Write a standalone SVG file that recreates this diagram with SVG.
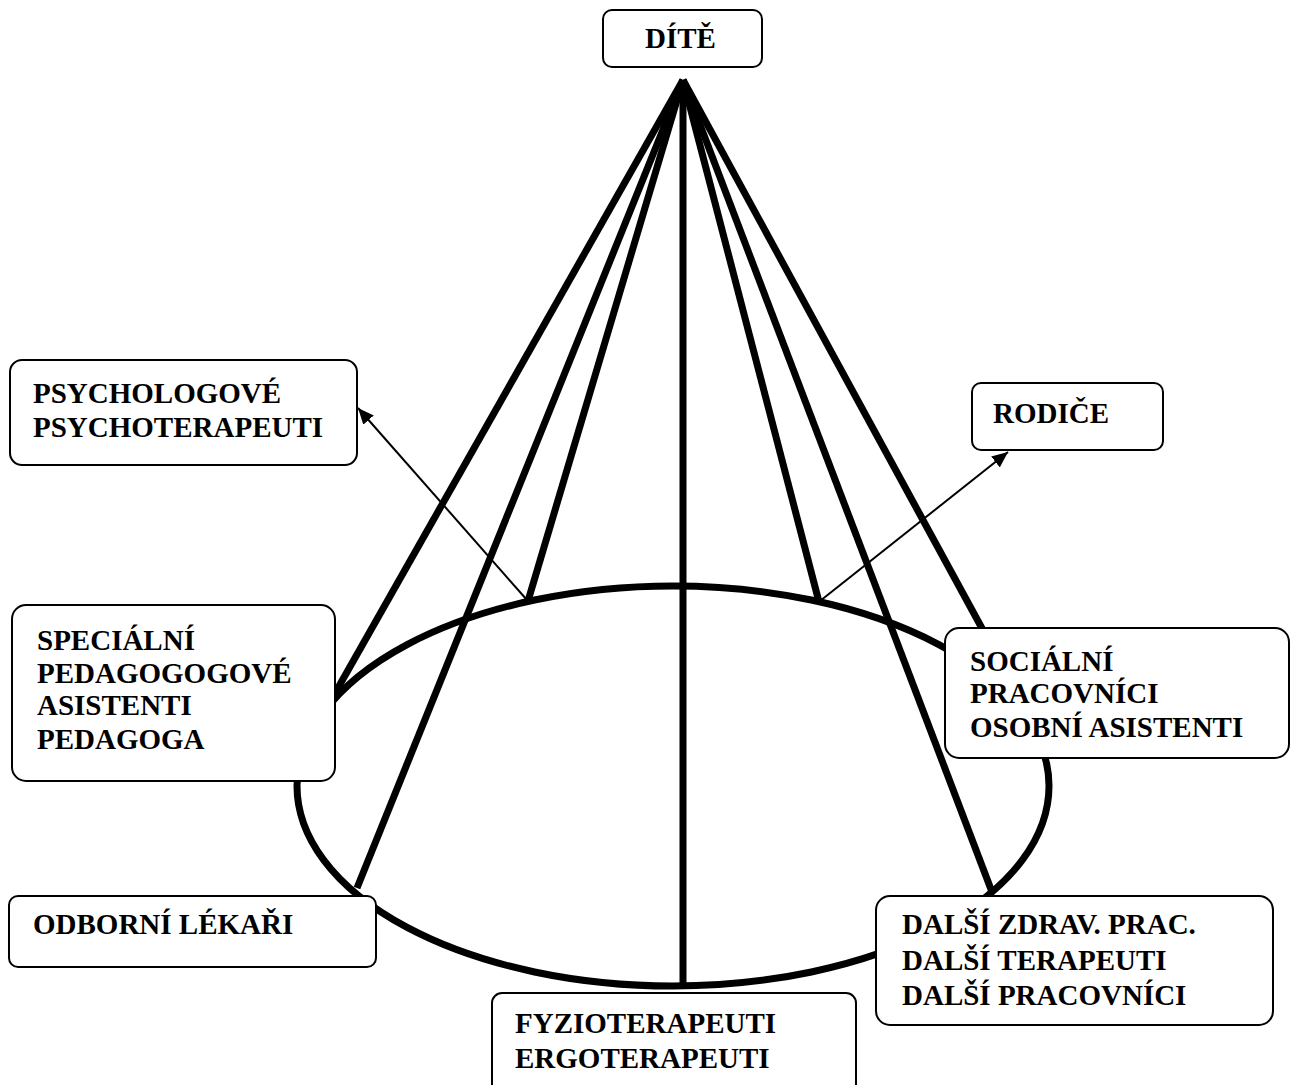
<svg xmlns="http://www.w3.org/2000/svg" width="1293" height="1085" viewBox="0 0 1293 1085">
<style>
.box{fill:#fff;stroke:#000;stroke-width:2}
.t{font-family:"Liberation Serif","Times New Roman",serif;font-weight:bold;font-size:29px;fill:#000}
.thick{stroke:#000;stroke-width:7;fill:none;stroke-linecap:butt}
.thin{stroke:#000;stroke-width:2;fill:none}
</style>
<defs>
<marker id="ah" markerUnits="userSpaceOnUse" markerWidth="18" markerHeight="14" refX="16" refY="7" orient="auto">
<path d="M0,0 L16,7 L0,14 Z" fill="#000"/>
</marker>
</defs>
<rect width="1293" height="1085" fill="#fff"/>
<g id="connectors">
<ellipse class="thick" cx="673" cy="786" rx="376" ry="200"/>
<line class="thick" x1="683" y1="80" x2="330" y2="702"/>
<line class="thick" x1="683" y1="80" x2="357" y2="888"/>
<line class="thick" x1="683" y1="80" x2="528" y2="601"/>
<line class="thick" x1="683" y1="80" x2="683" y2="986"/>
<line class="thick" x1="683" y1="80" x2="819" y2="602"/>
<line class="thick" x1="683" y1="80" x2="992" y2="892"/>
<line class="thick" x1="683" y1="80" x2="984" y2="632"/>
<line class="thin" x1="527" y1="600" x2="358" y2="408" marker-end="url(#ah)"/>
<line class="thin" x1="820" y1="601" x2="1008" y2="452" marker-end="url(#ah)"/>
</g>
<g id="dite">
<rect class="box" x="603" y="10" width="159" height="57" rx="9"/>
<text class="t" x="645" y="48">DÍTĚ</text>
</g>
<g id="psychologove">
<rect class="box" x="10" y="360" width="347" height="105" rx="12"/>
<text class="t" x="33" y="403">PSYCHOLOGOVÉ</text>
<text class="t" x="33" y="437">PSYCHOTERAPEUTI</text>
</g>
<g id="rodice">
<rect class="box" x="972" y="383" width="191" height="67" rx="9"/>
<text class="t" x="993" y="423">RODIČE</text>
</g>
<g id="specialni">
<rect class="box" x="12" y="605" width="323" height="176" rx="14"/>
<text class="t" x="37" y="650">SPECIÁLNÍ</text>
<text class="t" x="37" y="683">PEDAGOGOGOVÉ</text>
<text class="t" x="37" y="715">ASISTENTI</text>
<text class="t" x="37" y="749">PEDAGOGA</text>
</g>
<g id="socialni">
<rect class="box" x="945" y="628" width="344" height="130" rx="14"/>
<text class="t" x="970" y="671">SOCIÁLNÍ</text>
<text class="t" x="970" y="703">PRACOVNÍCI</text>
<text class="t" x="970" y="737">OSOBNÍ ASISTENTI</text>
</g>
<g id="odborni">
<rect class="box" x="9" y="896" width="367" height="71" rx="9"/>
<text class="t" x="33" y="934">ODBORNÍ LÉKAŘI</text>
</g>
<g id="dalsi">
<rect class="box" x="876" y="896" width="397" height="129" rx="14"/>
<text class="t" x="902" y="934">DALŠÍ ZDRAV. PRAC.</text>
<text class="t" x="902" y="970">DALŠÍ TERAPEUTI</text>
<text class="t" x="902" y="1005">DALŠÍ PRACOVNÍCI</text>
</g>
<g id="fyzio">
<rect class="box" x="492" y="993" width="364" height="110" rx="10"/>
<text class="t" x="515" y="1033">FYZIOTERAPEUTI</text>
<text class="t" x="515" y="1068">ERGOTERAPEUTI</text>
</g>
</svg>
